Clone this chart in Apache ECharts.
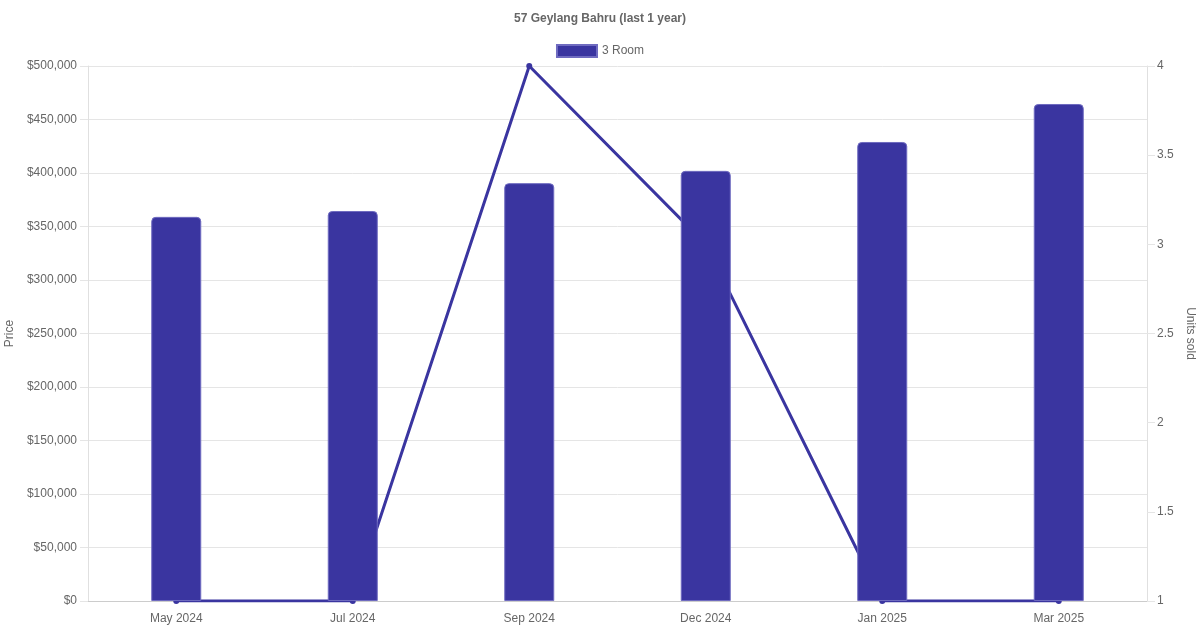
<!DOCTYPE html>
<html>
<head>
<meta charset="utf-8">
<script src="https://cdn.jsdelivr.net/npm/echarts@6/dist/echarts.min.js"></script>
<style>
html,body{margin:0;padding:0;background:#fff;}
#chart{width:1200px;height:630px;}
</style>
</head>
<body>
<div id="chart"></div>
<script>
const categories = ['May 2024', 'Jul 2024', 'Sep 2024', 'Dec 2024', 'Jan 2025', 'Mar 2025'];
const prices = [359000, 364500, 390500, 402000, 429000, 464500];
const unitsSold = [1, 1, 4, 3, 1, 1];
const seriesName = '3 Room';
const titleText = '57 Geylang Bahru (last 1 year)';

const FONT = '"Liberation Sans", Arial, Helvetica, sans-serif';
const C = '#3a35a0';
const chart = echarts.init(document.getElementById('chart'), null, {renderer: 'canvas'});
chart.setOption({
  animation: false,
  textStyle: {fontFamily: FONT},
  title: {
    text: titleText, left: 'center', top: 8,
    textStyle: {fontFamily: FONT, fontSize: 12, fontWeight: 'bold', color: '#666'}
  },
  legend: {
    data: [{name: seriesName, icon: 'rect'}],
    top: 39, left: 'center', itemWidth: 40, itemHeight: 12, itemGap: 10,
    textStyle: {fontFamily: FONT, fontSize: 12, color: '#666'}
  },
  grid: {left: 88, right: 53, top: 66, bottom: 29, containLabel: false, outerBoundsMode: 'none'},
  xAxis: {
    type: 'category', data: categories,
    axisLine: {lineStyle: {color: '#ccc'}},
    axisTick: {show: false},
    axisLabel: {color: '#666', fontSize: 12, fontFamily: FONT, margin: 12},
    splitLine: {show: false}
  },
  yAxis: [
    {
      type: 'value', min: 0, max: 500000, interval: 50000,
      name: 'Price', nameLocation: 'middle', nameGap: 69,
      nameTextStyle: {color: '#666', fontSize: 12, fontFamily: FONT},
      axisLine: {show: true, lineStyle: {color: '#e0e0e0'}},
      axisTick: {show: true, length: 8, lineStyle: {color: '#e5e5e5'}},
      axisLabel: {color: '#666', fontSize: 12, fontFamily: FONT, margin: 11,
        formatter: v => '$' + v.toLocaleString('en-US')},
      splitLine: {lineStyle: {color: '#e5e5e5'}}
    },
    {
      type: 'value', min: 1, max: 4, interval: 0.5, position: 'right',
      name: 'Units sold', nameLocation: 'middle', nameGap: 33, nameRotate: -90,
      nameTextStyle: {color: '#666', fontSize: 12, fontFamily: FONT},
      axisLine: {show: true, lineStyle: {color: '#e0e0e0'}},
      axisTick: {show: true, length: 8, lineStyle: {color: '#e5e5e5'}},
      axisLabel: {color: '#666', fontSize: 12, fontFamily: FONT, margin: 10},
      splitLine: {show: false}
    }
  ],
  series: [
    {
      name: seriesName, type: 'bar', yAxisIndex: 0, data: prices, z: 3,
      barWidth: 50,
      itemStyle: {color: C, borderColor: '#6f6bc0', borderWidth: 1, borderRadius: [4, 4, 0, 0]}
    },
    {
      name: seriesName, type: 'line', yAxisIndex: 1, data: unitsSold, z: 2,
      symbol: 'circle', symbolSize: 6, showSymbol: true,
      lineStyle: {color: C, width: 3},
      itemStyle: {color: C}
    }
  ]
});
</script>
</body>
</html>
